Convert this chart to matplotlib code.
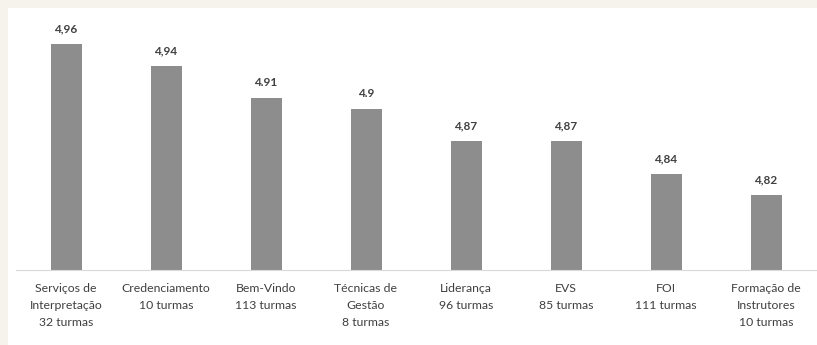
import numpy as np
import matplotlib.pyplot as plt
from matplotlib.patches import Rectangle

categories = ["Serviços de\nInterpretação\n32 turmas", "Credenciamento\n10 turmas",
              "Bem-Vindo\n113 turmas", "Técnicas de\nGestão\n8 turmas",
              "Liderança\n96 turmas", "EVS\n85 turmas", "FOI\n111 turmas",
              "Formação de\nInstrutores\n10 turmas"]
values = [4.96, 4.94, 4.91, 4.90, 4.87, 4.87, 4.84, 4.82]
value_labels = ["4,96", "4,94", "4.91", "4.9", "4,87", "4,87", "4,84", "4,82"]

W, H = 817, 345
fig = plt.figure(figsize=(W / 100, H / 100), dpi=100)
fig.patch.set_facecolor("#f6f3ec")
fig.patches.append(Rectangle((8 / W, 0), 1, 1 - 8 / H, transform=fig.transFigure,
                             facecolor="white", edgecolor="none", zorder=-5))

# axes: x from 16 to 816 px, baseline at y=270, top at y=20
ax = fig.add_axes([16 / W, (H - 270) / H, 800 / W, 250 / H])
ax.set_zorder(5)
ax.set_facecolor("none")
x = np.arange(len(values))
ax.bar(x, np.array(values) - 4.751, bottom=4.751, width=0.31, color="#8d8d8d")
ax.set_xlim(-0.5, len(values) - 0.5)
ax.set_ylim(4.751, 4.751 + 250 / 1080)

for xi, v, lab in zip(x, values, value_labels):
    ax.annotate(lab, (xi, v), xytext=(0, 8.5), textcoords="offset points",
                ha="center", va="baseline", fontsize=8.5, fontweight="bold",
                color="#404040", family="Lato")

for s in ["top", "right", "left"]:
    ax.spines[s].set_visible(False)
ax.spines["bottom"].set_color("#d9d9d9")
ax.set_yticks([])
ax.set_xticks(x)
ax.set_xticklabels(categories, fontsize=8.8, color="#404040", family="Lato", linespacing=1.7)
ax.tick_params(axis="x", length=0, pad=9)

fig.savefig("out.png", dpi=100)
